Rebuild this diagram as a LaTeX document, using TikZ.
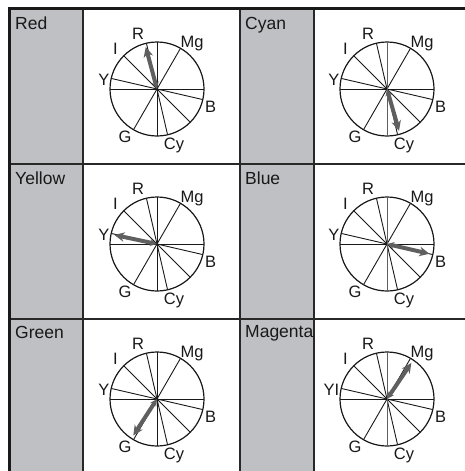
\documentclass[tikz,border=0pt]{standalone}
\usepackage{fontspec}
\setmainfont{Liberation Sans}
\usetikzlibrary{arrows.meta}
\definecolor{colgrey}{RGB}{191,192,196}
\definecolor{arrgrey}{RGB}{95,95,95}
\definecolor{gridc}{RGB}{40,40,40}
\tikzset{
  gridline/.style={draw=gridc, line width=1.2pt},
  borderline/.style={draw=black!90, line width=2.6pt},
  wheel/.style={circle, draw=black!90, line width=1.2pt, minimum size=94pt, inner sep=0pt, outer sep=0pt},
  spoke/.style={draw=black!90, line width=0.9pt},
  lab/.style={font=\fontsize{16.5}{16.5}\selectfont, inner sep=0pt, text=black!90},
  hdr/.style={font=\fontsize{17.5}{17.5}\selectfont, inner sep=0pt, anchor=base west, text=black!90},
  vecarrow/.style={draw=arrgrey, line width=4pt, {Stealth[length=7pt,width=7pt]}-{Stealth[length=10pt,width=9.5pt]}, shorten >=3.5pt}
}
% #1 x, #2 y, #3 name, #4 arrow angle, #5 Y label, #6 vertical spoke colour
\newcommand{\vecwheel}[6]{%
  \begin{scope}[shift={(#1,#2)}]
    \node[wheel] (#3) at (0,0) {};
    \draw[spoke] (#3.60.8) -- (#3.240.8);
    \draw[spoke] (#3.0) -- (#3.180);
    \draw[spoke] (#3.135) -- (#3.315);
    \draw[spoke] (#3.167.1) -- (#3.347.1);
    \draw[spoke] (#3.103.5) -- (#3.283.5);
    \draw[spoke, draw=#6] (#3.90) -- (#3.270);
    \draw[vecarrow] (#3.center) -- (#3.#4);
    \node[lab] (#3R) at (-19,-55) {R};
    \node[lab] (#3Mg) at (35,-45) {Mg};
    \node[lab] (#3I) at (-41.5,-40) {I};
    \node[lab, anchor=east] (#3Y) at (-47.5,-9) {#5};
    \node[lab] (#3B) at (53.5,18) {B};
    \node[lab] (#3Cy) at (17,56) {Cy};
    \node[lab] (#3G) at (-32,48) {G};
  \end{scope}}
\begin{document}
\begin{tikzpicture}[x=1pt,y=-1pt]
\useasboundingbox (0,0) rectangle (465,471);
\fill[white] (0,0) rectangle (465,471);
\fill[colgrey] (9,9) rectangle (83,471);
\fill[colgrey] (240,9) rectangle (314,471);
\draw[gridline] (83,9) -- (83,471);
\draw[gridline] (240,9) -- (240,471);
\draw[gridline] (314,9) -- (314,471);
\draw[gridline] (9,164) -- (465,164);
\draw[gridline] (9,319) -- (465,319);
\draw[borderline] (8,8.6) -- (465,8.6);
\draw[borderline] (9.3,7.3) -- (9.3,471);
\node[hdr] (hred) at (15,29) {Red};
\node[hdr] (hcyan) at (245,29) {Cyan};
\node[hdr] (hyellow) at (15,184) {Yellow};
\node[hdr] (hblue) at (245,184) {Blue};
\node[hdr] (hgreen) at (15,338.5) {Green};
\node[hdr] (hmagenta) at (245,337.5) {Magenta};
\vecwheel{157}{89}{wr}{105}{Y}{black!90}
\vecwheel{387}{89}{wc}{286}{Y}{arrgrey}
\vecwheel{157}{244}{wy}{168}{Y}{black!90}
\vecwheel{387}{244}{wb}{347}{Y}{arrgrey}
\vecwheel{157}{399}{wg}{237}{Y}{black!90}
\vecwheel{387}{399}{wm}{56}{YI}{arrgrey}
\end{tikzpicture}
\end{document}
